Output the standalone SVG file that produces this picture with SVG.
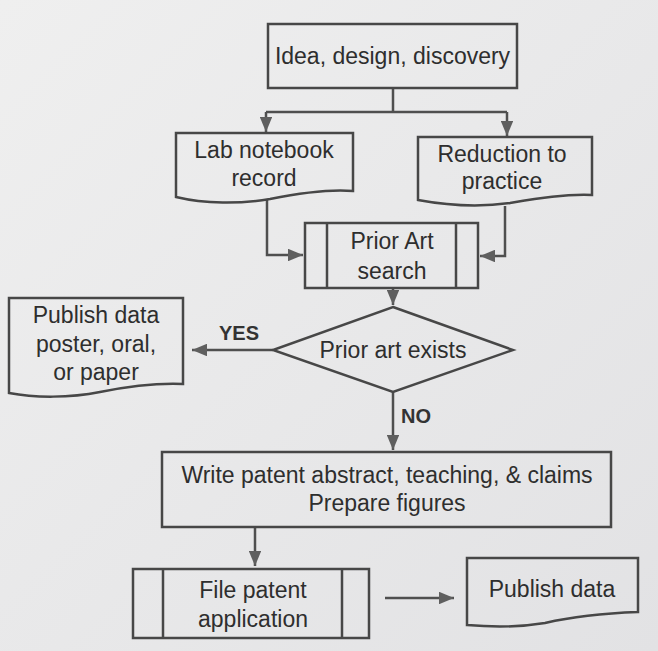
<svg xmlns="http://www.w3.org/2000/svg" width="658" height="651" viewBox="0 0 658 651">
<defs>
<marker id="ah" viewBox="0 0 12 10" refX="12" refY="5" markerWidth="6" markerHeight="5" orient="auto" markerUnits="strokeWidth">
<path d="M0,0 L12,5 L0,10 Z" fill="#5f5f5f"/>
</marker>
<linearGradient id="bg" x1="0" y1="0" x2="1" y2="1">
<stop offset="0" stop-color="#efefef"/>
<stop offset="1" stop-color="#e2e2e4"/>
</linearGradient>
</defs>
<style>
.box{fill:none;stroke:#474747;stroke-width:2.5}
.t{font-family:"Liberation Sans",Arial,sans-serif;font-size:23px;fill:#2e2e2e;text-anchor:middle}
.b{font-family:"Liberation Sans",Arial,sans-serif;font-size:20px;font-weight:bold;fill:#333}
.c{fill:none;stroke:#4f4f4f;stroke-width:2.5}
</style>
<rect x="0" y="0" width="658" height="651" fill="url(#bg)"/>

<g id="connectors">
<path class="c" d="M393,88 V112 M266,112 H507"/>
<path class="c" d="M266,112 V132" marker-end="url(#ah)"/>
<path class="c" d="M507,112 V136" marker-end="url(#ah)"/>
<path class="c" d="M267,200 V255 H303" marker-end="url(#ah)"/>
<path class="c" d="M505,206 V256 H480" marker-end="url(#ah)"/>
<path class="c" d="M393,288 V305" marker-end="url(#ah)"/>
<path class="c" d="M273,350 H192" marker-end="url(#ah)"/>
<path class="c" d="M393,392 V450" marker-end="url(#ah)"/>
<path class="c" d="M255,527 V566" marker-end="url(#ah)"/>
<path class="c" d="M385,598 H454" marker-end="url(#ah)"/>
<text class="b" x="219" y="340">YES</text>
<text class="b" x="401" y="423">NO</text>
</g>

<g id="idea">
<rect class="box" x="268" y="24" width="249" height="64"/>
<text class="t" x="392.5" y="64">Idea, design, discovery</text>
</g>

<g id="lab">
<path class="box" d="M176,133 H353 V191 C330,189 300,193 270,199 C240,204 205,204 176,197 Z"/>
<text class="t" x="264" y="158">Lab notebook</text>
<text class="t" x="264" y="186">record</text>
</g>

<g id="reduction">
<path class="box" d="M418,137 H592 V195 C565,194 540,198 510,203 C475,208 445,205 418,200 Z"/>
<text class="t" x="502" y="162">Reduction to</text>
<text class="t" x="502" y="189">practice</text>
</g>

<g id="priorsearch">
<rect class="box" x="305" y="223" width="173" height="65"/>
<path class="box" d="M327,223 V288 M456,223 V288"/>
<text class="t" x="392" y="249">Prior Art</text>
<text class="t" x="392" y="279">search</text>
</g>

<g id="decision">
<path class="box" d="M393,307 L513,350 L393,392 L273,350 Z"/>
<text class="t" x="393" y="358">Prior art exists</text>
</g>

<g id="publishposter">
<path class="box" d="M9,298 H183 V384 C160,383 130,386 100,392 C70,398 35,398 9,393 Z"/>
<text class="t" x="96" y="323">Publish data</text>
<text class="t" x="96" y="352">poster, oral,</text>
<text class="t" x="96" y="380">or paper</text>
</g>

<g id="write">
<rect class="box" x="162" y="452" width="449" height="75"/>
<text class="t" x="387" y="483">Write patent abstract, teaching, &amp; claims</text>
<text class="t" x="387" y="511">Prepare figures</text>
</g>

<g id="file">
<rect class="box" x="133" y="569" width="236" height="69"/>
<path class="box" d="M163,569 V638 M342,569 V638"/>
<text class="t" x="253" y="598">File patent</text>
<text class="t" x="253" y="627">application</text>
</g>

<g id="publish">
<path class="box" d="M467,558 H638 V612 C610,613 575,616 545,623 C515,628 490,627 467,625 Z"/>
<text class="t" x="552" y="597">Publish data</text>
</g>
</svg>
